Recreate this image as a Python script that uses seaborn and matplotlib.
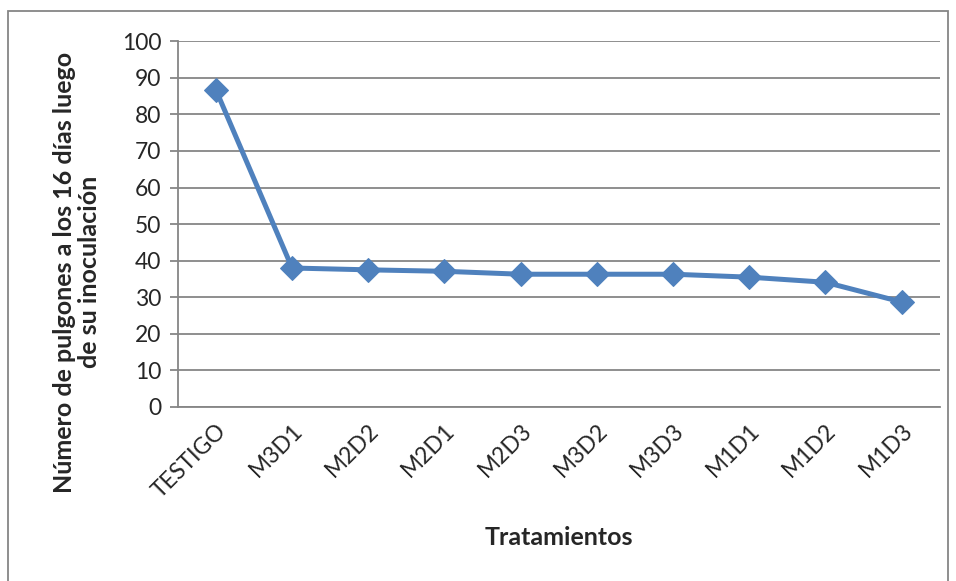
import pandas as pd
import seaborn as sns
import matplotlib.pyplot as plt
from matplotlib.patches import Rectangle

tratamientos = ["TESTIGO", "M3D1", "M2D2", "M2D1", "M2D3", "M3D2", "M3D3", "M1D1", "M1D2", "M1D3"]
pulgones = [86.7, 38.0, 37.5, 37.1, 36.3, 36.3, 36.3, 35.5, 34.1, 28.7]
y_ticks = [0, 10, 20, 30, 40, 50, 60, 70, 80, 90, 100]

sns.set_style("white")
plt.rcParams['font.family'] = ['Lato', 'DejaVu Sans']

df = pd.DataFrame({"Tratamientos": tratamientos, "Pulgones": pulgones})

fig = plt.figure(figsize=(9.56, 5.81), dpi=100)
ax = fig.add_axes([0.186, 0.2995, 0.797, 0.6295])

sns.lineplot(data=df, x="Tratamientos", y="Pulgones", ax=ax, sort=False,
             color="#4F81BD", linewidth=3.6, marker="D", markersize=12,
             markeredgecolor="#4F81BD")

ax.set_xlim(-0.5, len(tratamientos) - 0.5)
ax.set_ylim(0, 100)
ax.set_yticks(y_ticks)
ax.grid(axis="y", color="#868686", linewidth=1.3)
ax.set_axisbelow(True)
for s in ["top", "right"]:
    ax.spines[s].set_visible(False)
for s in ["left", "bottom"]:
    ax.spines[s].set_color("#868686")
    ax.spines[s].set_linewidth(1.3)

ax.tick_params(axis="y", which="both", left=True, length=6, width=1.3,
               color="#868686", labelsize=16.5, pad=6)
ax.tick_params(axis="x", bottom=False, labelsize=16.5, pad=6)
plt.setp(ax.get_xticklabels(), rotation=45, ha="right", rotation_mode="anchor")

ax.set_xlabel("Tratamientos", fontsize=18, fontweight="bold", va="center")
ax.xaxis.set_label_coords(0.5, -0.358)
ax.set_ylabel("Número de pulgones a los 16 días luego\nde su inoculación",
              fontsize=18, fontweight="bold", linespacing=1.1, va="center")
ax.yaxis.set_label_coords(-0.1325, 0.369)

fig.patches.append(Rectangle((8 / 956, -0.05), 940 / 956, 1.031, transform=fig.transFigure,
                             fill=False, edgecolor="#868686", linewidth=1.3))

fig.savefig("out.png", dpi=100)
